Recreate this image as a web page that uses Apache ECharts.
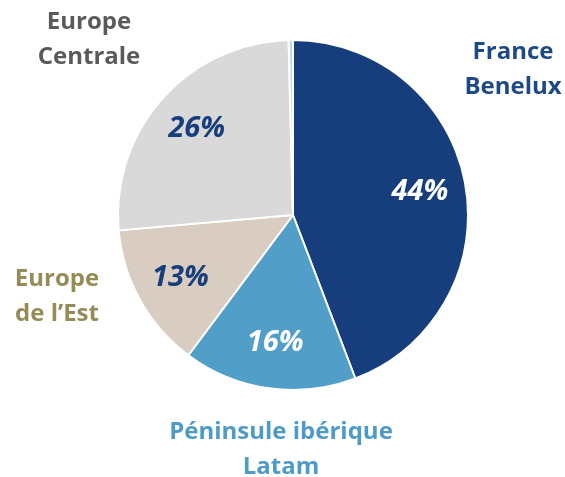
<!DOCTYPE html>
<html>
<head>
<meta charset="utf-8">
<script src="https://cdn.jsdelivr.net/npm/echarts@6/dist/echarts.min.js"></script>
<style>
  html, body { margin: 0; padding: 0; background: #fff; }
  #chart { width: 565px; height: 477px; }
</style>
</head>
<body>
<div id="chart"></div>
<script>
// 数据
var regions = ['France\nBenelux', 'Péninsule ibérique\nLatam', 'Europe\nde l\u2019Est', 'Europe\nCentrale', ''];
var shares = [44.2, 16.0, 13.4, 26.0, 0.4];
var shareLabels = ['44%', '16%', '13%', '26%', ''];

// 样式
var sliceColors = ['#173e7c', '#519ec9', '#d9ccc1', '#d9d9d9', '#c3d8ee'];
var innerTextColors = ['#ffffff', '#ffffff', '#173e7c', '#173e7c', '#173e7c'];
var outerTextColors = ['#1d4987', '#4f9bc8', '#958b56', '#5a5a5a', '#5a5a5a'];
// 外部标签位置 (像素)
var outerLabelPos = [[513, 70], [281, 450], [57, 297], [89, 40], [0, 0]];

var chart = echarts.init(document.getElementById('chart'));

var center = [293, 215];
var radius = 175;

chart.setOption({
    animation: false,
    series: [
        {
            type: 'pie',
            center: center,
            radius: [0, radius],
            startAngle: 90,
            clockwise: true,
            avoidLabelOverlap: false,
            itemStyle: { borderColor: '#ffffff', borderWidth: 2 },
            label: {
                show: true,
                position: 'outside',
                formatter: function (p) { return regions[p.dataIndex]; },
                fontFamily: '"Open Sans", Lato, sans-serif',
                fontWeight: 'bold',
                fontSize: 24,
                lineHeight: 35
            },
            labelLine: { show: false },
            labelLayout: function (params) {
                var pos = outerLabelPos[params.dataIndex];
                return { x: pos[0], y: pos[1], align: 'center', verticalAlign: 'middle' };
            },
            emphasis: { disabled: true },
            data: shares.map(function (v, i) {
                return {
                    value: v,
                    name: regions[i],
                    itemStyle: { color: sliceColors[i] },
                    label: { color: outerTextColors[i], show: regions[i] !== '' }
                };
            })
        },
        {
            // 百分比标签层
            type: 'pie',
            center: center,
            radius: [radius * 0.44, radius],
            startAngle: 90,
            clockwise: true,
            silent: true,
            avoidLabelOverlap: false,
            itemStyle: { color: 'rgba(0,0,0,0)' },
            label: {
                show: true,
                position: 'inside',
                formatter: function (p) { return shareLabels[p.dataIndex]; },
                fontFamily: '"Open Sans", Lato, sans-serif',
                fontWeight: 'bold',
                fontStyle: 'italic',
                fontSize: 29
            },
            labelLine: { show: false },
            emphasis: { disabled: true },
            data: shares.map(function (v, i) {
                return {
                    value: v,
                    name: 'p' + i,
                    label: { color: innerTextColors[i] }
                };
            })
        }
    ]
});
</script>
</body>
</html>
